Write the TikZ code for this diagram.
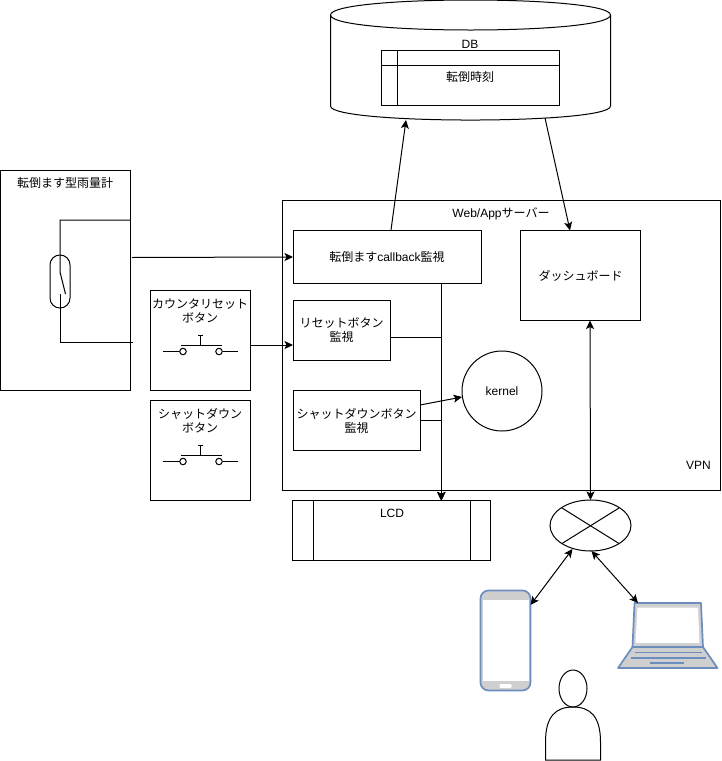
\documentclass[tikz,border=0pt]{standalone}
\usepackage{fontspec}
\setmainfont{Liberation Sans}
\newfontfamily\jpf{Noto Sans CJK JP}
\newcommand{\jp}[1]{{\jpf #1}}
\usetikzlibrary{arrows.meta,calc,shapes.geometric}
\definecolor{devblue}{HTML}{6C8EBF}
\definecolor{devgrey}{HTML}{CFCFCF}
\tikzset{
  x=1pt,y=-1pt,
  every node/.style={font=\fontsize{12}{14}\selectfont,inner sep=0pt,outer sep=0pt,align=center},
  box/.style={draw=black,line width=1pt,rectangle},
  wire/.style={line width=1pt,draw=black},
  conn/.style={line width=1pt,draw=black,-{Stealth[length=8.5pt,width=8pt,inset=2pt]}},
  biconn/.style={line width=1pt,draw=black,{Stealth[length=8.5pt,width=8pt,inset=2pt]}-{Stealth[length=8.5pt,width=8pt,inset=2pt]}},
  device/.style={draw=devblue,line width=1.7pt,fill=devgrey,line join=round},
  keyline/.style={draw=devblue,line width=1.7pt},
  contact/.style={circle,draw=black,line width=1pt,minimum size=6.5pt,fill=white}
}
\begin{document}
\begin{tikzpicture}
\useasboundingbox (0,0) rectangle (721,761);

% Web/App server
\node[box,minimum width=438pt,minimum height=290pt] (vpn) at (501.5,345.5) {};
\node (vpnlabel) at (501,213.5) {Web/App\jp{サーバー}};
\node (vpntext) at (698.5,465) {VPN};

% Database cylinder
\node[minimum width=280pt,minimum height=120pt] (db) at (470.5,60) {};
\draw[wire,line join=round] (330.5,15) .. controls (330.5,-5) and (610.5,-5) .. (610.5,15)
  -- (610.5,106) .. controls (610.5,124.7) and (330.5,124.7) .. (330.5,106) -- cycle;
\draw[wire] (330.5,15) .. controls (330.5,35) and (610.5,35) .. (610.5,15);
\node (dblabel) at (470,44) {DB};
\node[box,minimum width=178pt,minimum height=55pt] (table) at (470.5,78) {};
\draw[wire] (table.west |- 0,65.5) -- (table.east |- 0,65.5);
\draw[wire] (397,50.5) -- (397,105.5);
\node (tablelabel) at (470,76.5) {\jp{転倒時刻}};

% Tipping bucket rain gauge
\node[box,minimum width=130pt,minimum height=220pt] (gauge) at (65.5,280) {};
\node (gaugelabel) at (65,183) {\jp{転倒ます型雨量計}};
\node[box,rounded corners=9.9pt,minimum width=20pt,minimum height=53pt] (reed) at (60,281.5) {};
\draw[wire] (gauge.east |- 0,220) -- (60,220) -- (60,272) -- (65.5,294);
\draw[wire] (60,294) -- (60,342) -- (133,342);

% Counter reset button
\node[box,minimum width=100pt,minimum height=100pt] (reset) at (200.5,340.5) {};
\node (resetlabel) at (200,310.5) {\jp{カウンタリセット}\\\jp{ボタン}};
\draw[wire] (163,351.5) -- (179.5,351.5);
\draw[wire] (222.5,351.5) -- (238,351.5);
\node[contact] (ra) at (183,351.5) {};
\node[contact] (rb) at (219,351.5) {};
\draw[wire] (181,345) -- (222,345);
\draw[wire] (200.5,345) -- (200.5,335.5);
\draw[wire] (198,335.5) -- (203,335.5);

% Shutdown button
\node[box,minimum width=100pt,minimum height=100pt] (shut) at (200.5,450.5) {};
\node (shutlabel) at (200,420.5) {\jp{シャットダウン}\\\jp{ボタン}};
\draw[wire] (163,461.5) -- (179.5,461.5);
\draw[wire] (222.5,461.5) -- (238,461.5);
\node[contact] (sa) at (183,461.5) {};
\node[contact] (sb) at (219,461.5) {};
\draw[wire] (181,455) -- (222,455);
\draw[wire] (200.5,455) -- (200.5,445.5);
\draw[wire] (198,445.5) -- (203,445.5);

% Monitors
\node[box,minimum width=188pt,minimum height=53pt] (cb) at (387,256.5) {\jp{転倒ます}callback\jp{監視}};
\node[box,minimum width=97pt,minimum height=60pt] (rm) at (341.5,330.5) {\jp{リセットボタン}\\\jp{監視}};
\node[box,minimum width=127pt,minimum height=60pt] (sm) at (356.5,420.5) {\jp{シャットダウンボタン}\\\jp{監視}};
\node[box,circle,minimum size=80pt] (kernel) at (502,391) {kernel};
\node[box,minimum width=120pt,minimum height=90pt] (dash) at (580.5,275.5) {\jp{ダッシュボード}};

% LCD
\node[box,minimum width=198pt,minimum height=60pt] (lcd) at (391.5,530.5) {};
\draw[wire] (313,500.5) -- (313,560.5);
\draw[wire] (470.5,500.5) -- (470.5,560.5);
\node (lcdlabel) at (392,513) {LCD};

% Network hub
\node[box,ellipse,minimum width=81pt,minimum height=51pt] (hub) at (590.5,525.5) {};
\draw[wire] (562,508) -- (619,543.5);
\draw[wire] (562,543.5) -- (619,508);

% Phone
\node[device,rectangle,rounded corners=8pt,minimum width=50pt,minimum height=100pt] (phone) at (505.5,640.5) {};
\fill[white] (482.5,600) rectangle (528.5,681);
\fill[white,rounded corners=1pt] (499.5,684) rectangle (511.5,688);

% Laptop
\coordinate (laptop) at (638,603);
\draw[device] (634.5,603) -- (701,603) -- (703,647) -- (632.5,647) -- cycle;
\fill[white] (637.5,607.5) -- (698,607.5) -- (699.5,643) -- (635.5,643) -- cycle;
\draw[device] (632.5,647) -- (703,647) -- (717.5,668) -- (618,668) -- cycle;
\draw[keyline] (635,652.5) -- (702,652.5);
\draw[keyline] (631,658) -- (706,658);
\draw[keyline] (650,663) -- (684,663);

% User
\node[box,ellipse,minimum width=28pt,minimum height=37pt] (head) at (573,688.5) {};
\draw[wire] (545.5,760) -- (545.5,742) .. controls (545.5,716) and (556,707) .. (573,707)
  .. controls (590,707) and (600.5,716) .. (600.5,742) -- (600.5,760) -- cycle;

% Connectors
\coordinate (gaugeout) at (132,257.5);
\draw[conn] (gaugeout) -- (cb.west |- 0,257);
\draw[conn] (reset.east |- 0,345) -- (rm.west |- 0,345);
\draw[conn] ($(cb.north)+(4,0)$) -- ($(db.south)+(-64.5,0)$);
\draw[conn] ($(db.south)+(74.5,-2)$) -- ($(dash.north)+(-10.5,0)$);
\draw[conn] ($(cb.south)+(54,0)$) -- ($(lcd.north)+(49.5,0)$);
\draw[conn] (rm.east |- 0,337) -- (441.5,337) -- ($(lcd.north)+(50,0)$);
\draw[conn] (sm.east |- 0,420) -- (441.5,420) -- ($(lcd.north)+(50,0)$);
\draw[conn] (sm.east |- 0,405) -- ($(kernel.center)+(-40,6)$);
\draw[biconn] ($(dash.south)+(9.5,0)$) -- (hub.north);
\draw[biconn] ($(hub.south)+(-18,-2)$) -- (phone.east |- 0,605);
\draw[biconn] ($(hub.south)+(1,0)$) -- (laptop);
\end{tikzpicture}
\end{document}
